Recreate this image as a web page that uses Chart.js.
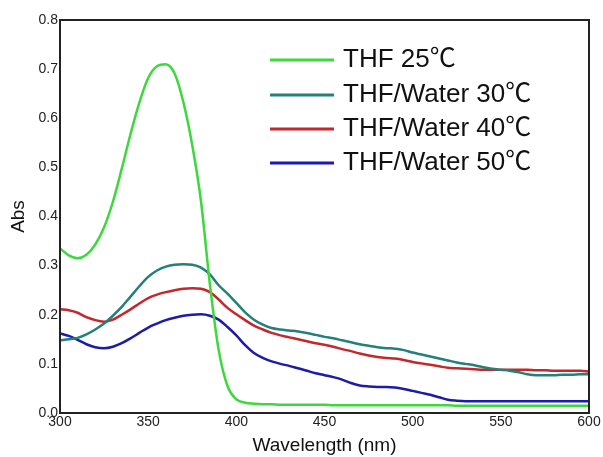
<!DOCTYPE html>
<html>
<head>
<meta charset="utf-8">
<script src="https://cdn.jsdelivr.net/npm/chart.js@4.4.0/dist/chart.umd.min.js"></script>
<style>
  html, body { margin: 0; padding: 0; background: #fff; }
  #wrap { width: 603px; height: 457px; position: relative; }
</style>
</head>
<body>
<div id="wrap"><canvas id="uv"></canvas></div>
<script>
// 波長 (nm)
const wavelength = [
  300, 305, 310, 315, 320, 325, 330, 335, 340, 345,
  350, 355, 360, 365, 370, 375, 380, 385, 390, 395,
  400, 405, 410, 415, 420, 425, 430, 435, 440, 445,
  450, 455, 460, 465, 470, 475, 480, 485, 490, 495,
  500, 505, 510, 515, 520, 525, 530, 535, 540, 545,
  550, 555, 560, 565, 570, 575, 580, 585, 590, 595, 600
];

const thf25 = [
  0.335, 0.321, 0.315, 0.322, 0.343, 0.378, 0.430, 0.497, 0.568, 0.632,
  0.682, 0.706, 0.710, 0.691, 0.632, 0.545, 0.430, 0.262, 0.128, 0.055,
  0.028, 0.021, 0.019, 0.018, 0.018, 0.017, 0.017, 0.017, 0.017, 0.017,
  0.017, 0.016, 0.016, 0.016, 0.016, 0.016, 0.016, 0.016, 0.016, 0.016,
  0.016, 0.016, 0.016, 0.016, 0.016, 0.015, 0.015, 0.015, 0.015, 0.015,
  0.015, 0.015, 0.015, 0.015, 0.015, 0.015, 0.015, 0.015, 0.015, 0.015, 0.015
];

const water30 = [
  0.148, 0.150, 0.153, 0.160, 0.170, 0.182, 0.198, 0.216, 0.237, 0.258,
  0.277, 0.290, 0.298, 0.302, 0.303, 0.302, 0.296, 0.282, 0.260, 0.243,
  0.224, 0.205, 0.190, 0.180, 0.173, 0.170, 0.168, 0.166, 0.163, 0.159,
  0.155, 0.152, 0.148, 0.144, 0.140, 0.137, 0.134, 0.132, 0.131, 0.128,
  0.123, 0.119, 0.115, 0.111, 0.107, 0.103, 0.100, 0.097, 0.093, 0.090,
  0.088, 0.086, 0.083, 0.079, 0.077, 0.077, 0.077, 0.078, 0.078, 0.079, 0.079
];

const water40 = [
  0.211, 0.209, 0.204, 0.195, 0.189, 0.186, 0.190, 0.200, 0.211, 0.223,
  0.234, 0.241, 0.246, 0.250, 0.253, 0.254, 0.253, 0.246, 0.231, 0.214,
  0.201, 0.189, 0.178, 0.170, 0.163, 0.158, 0.154, 0.150, 0.146, 0.142,
  0.139, 0.135, 0.130, 0.126, 0.121, 0.117, 0.114, 0.112, 0.111, 0.108,
  0.104, 0.101, 0.098, 0.095, 0.092, 0.091, 0.090, 0.089, 0.088, 0.088,
  0.088, 0.088, 0.088, 0.088, 0.087, 0.087, 0.086, 0.086, 0.086, 0.086, 0.084
];

const water50 = [
  0.162, 0.157, 0.149, 0.140, 0.134, 0.132, 0.135, 0.142, 0.152, 0.163,
  0.174, 0.182, 0.189, 0.194, 0.198, 0.200, 0.201, 0.198, 0.190, 0.175,
  0.158, 0.138, 0.122, 0.112, 0.105, 0.100, 0.096, 0.091, 0.086, 0.081,
  0.077, 0.073, 0.068, 0.061, 0.056, 0.054, 0.053, 0.053, 0.052, 0.049,
  0.045, 0.041, 0.037, 0.032, 0.027, 0.025, 0.024, 0.024, 0.024, 0.024,
  0.024, 0.024, 0.024, 0.024, 0.024, 0.024, 0.024, 0.024, 0.024, 0.024, 0.024
];

const seriesLabels = ['THF 25℃', 'THF/Water 30℃', 'THF/Water 40℃', 'THF/Water 50℃'];
const seriesColors = ['#3cd83c', '#23807a', '#c2282c', '#1c1ca8'];
const xTicks = [300, 350, 400, 450, 500, 550, 600];
const yTicks = [0.0, 0.1, 0.2, 0.3, 0.4, 0.5, 0.6, 0.7, 0.8];

const FONT = "'Liberation Sans', Arial, 'Noto Sans CJK SC', sans-serif";

function toPoints(ys) {
  return wavelength.map((x, i) => ({ x: x, y: ys[i] }));
}

// 枠線（上・右も含む）
const boxPlugin = {
  id: 'box',
  afterDraw(chart) {
    const { ctx, chartArea: a } = chart;
    ctx.save();
    ctx.strokeStyle = '#222';
    ctx.lineWidth = 2;
    ctx.strokeRect(a.left, a.top, a.right - a.left, a.bottom - a.top);
    ctx.restore();
  }
};

// グラフ内の凡例
const legendPlugin = {
  id: 'insideLegend',
  afterDatasetsDraw(chart) {
    const ctx = chart.ctx;
    const x0 = 270, lineW = 64, textX = 343;
    const rows = [60, 95, 129, 163];
    ctx.save();
    ctx.font = '26px ' + FONT;
    ctx.textBaseline = 'middle';
    ctx.fillStyle = '#111';
    chart.data.datasets.forEach((ds, i) => {
      ctx.strokeStyle = ds.borderColor;
      ctx.lineWidth = 3;
      ctx.beginPath();
      ctx.moveTo(x0, rows[i]);
      ctx.lineTo(x0 + lineW, rows[i]);
      ctx.stroke();
      ctx.fillText(ds.label, textX, rows[i]);
    });
    ctx.restore();
  }
};

const datasets = [thf25, water30, water40, water50].map((ys, i) => ({
  label: seriesLabels[i],
  data: toPoints(ys),
  borderColor: seriesColors[i],
  backgroundColor: seriesColors[i],
  borderWidth: 2.5,
  pointRadius: 0,
  fill: false,
  cubicInterpolationMode: 'monotone'
}));

new Chart(document.getElementById('uv'), {
  type: 'line',
  data: { datasets: datasets },
  options: {
    responsive: true,
    maintainAspectRatio: false,
    animation: false,
    layout: { padding: { top: 20, right: 14, left: 0, bottom: 0 } },
    plugins: {
      legend: { display: false },
      tooltip: { enabled: false }
    },
    scales: {
      x: {
        type: 'linear',
        min: 300,
        max: 600,
        afterBuildTicks: s => { s.ticks = xTicks.map(v => ({ value: v })); },
        afterFit: s => { s.height = 44; },
        grid: { display: false, drawTicks: false },
        border: { display: false },
        ticks: {
          padding: 1,
          color: '#222',
          font: { family: FONT, size: 14 },
          callback: v => String(v)
        },
        title: {
          display: true,
          text: 'Wavelength (nm)',
          color: '#111',
          font: { family: FONT, size: 19 },
          padding: { top: 0, bottom: 0 }
        }
      },
      y: {
        min: 0,
        max: 0.8,
        afterBuildTicks: s => { s.ticks = yTicks.map(v => ({ value: v })); },
        afterFit: s => { s.width = 60; },
        grid: { display: false, drawTicks: false },
        border: { display: false },
        ticks: {
          padding: 2,
          color: '#222',
          font: { family: FONT, size: 14 },
          callback: v => v.toFixed(1)
        },
        title: {
          display: true,
          text: 'Abs',
          color: '#111',
          font: { family: FONT, size: 19 },
          padding: { top: 7, bottom: 0 }
        }
      }
    }
  },
  plugins: [boxPlugin, legendPlugin]
});
</script>
</body>
</html>
